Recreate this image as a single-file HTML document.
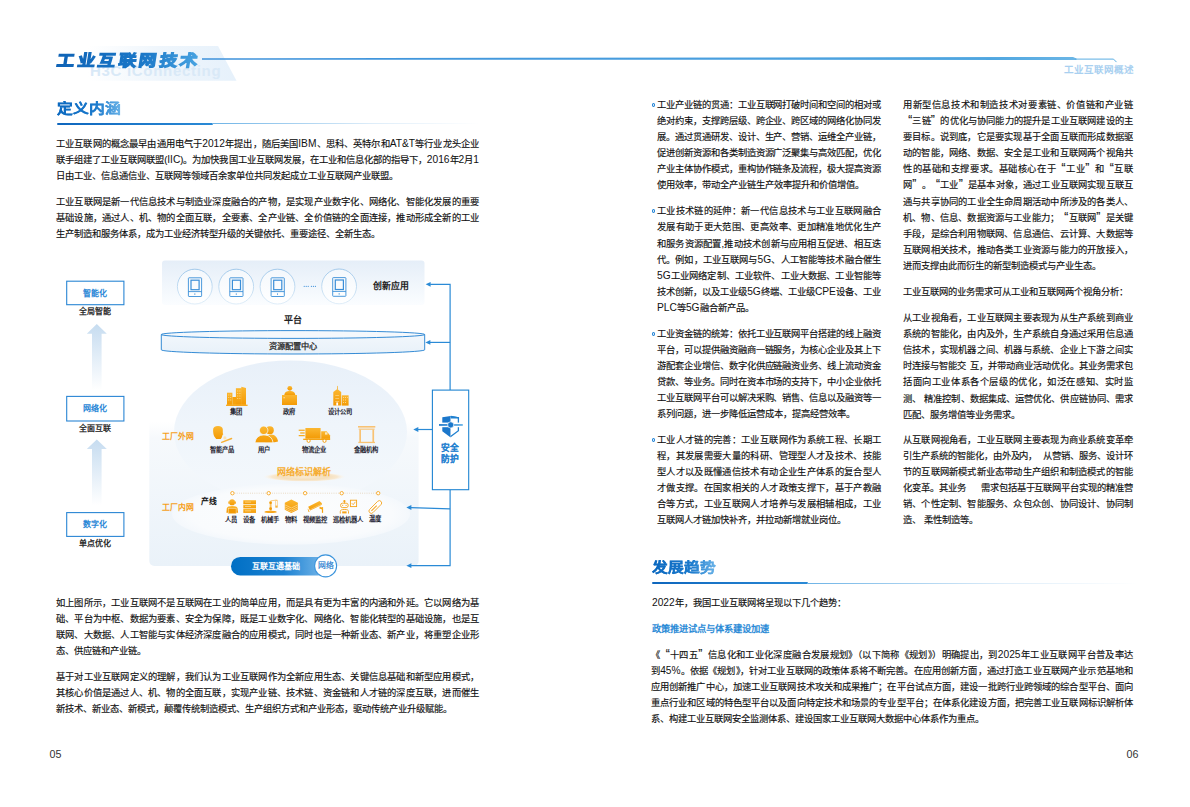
<!DOCTYPE html>
<html lang="zh-CN"><head><meta charset="utf-8"><style>
html,body{margin:0;padding:0;background:#fff;}
body{width:1190px;height:807px;position:relative;overflow:hidden;font-family:"Liberation Sans",sans-serif;color:#111;}
.j,.l{position:absolute;font-size:9.3px;line-height:16px;white-space:nowrap;-webkit-text-stroke-width:0.15px;}
.j{text-align:justify;text-align-last:justify;white-space:nowrap;}
.bul{position:absolute;width:1.4px;height:2px;border:1.1px solid #1e82d6;border-radius:50%;}
.a{position:absolute;white-space:nowrap;}
.sp{display:inline-block;}
.lt{font-size:1.1em;-webkit-text-stroke-width:0;}
.qo{display:inline-block;width:0.77em;font-size:1.3em;line-height:1px;text-align:right;text-align-last:right;}
.qc{display:inline-block;width:0.77em;font-size:1.3em;line-height:1px;text-align:left;text-align-last:left;}
.lab{position:absolute;white-space:nowrap;font-size:6.3px;line-height:8px;font-weight:bold;color:#1d2330;transform:translateX(-50%);}
</style></head><body>
<svg style="position:absolute;left:0;top:0" width="1190" height="100">
<defs>
<linearGradient id="trap" x1="0" x2="1" y1="0" y2="0">
<stop offset="0" stop-color="#eaf3fb" stop-opacity="0"></stop>
<stop offset="0.5" stop-color="#eaf3fb" stop-opacity="0.8"></stop>
<stop offset="1" stop-color="#e6f1fb" stop-opacity="1"></stop>
</linearGradient>
<linearGradient id="hl" x1="0" x2="1" y1="0" y2="0">
<stop offset="0" stop-color="#3d91db"></stop>
<stop offset="0.9" stop-color="#4fa6e0"></stop>
<stop offset="1" stop-color="#6bb6e6"></stop>
</linearGradient>
</defs>
<polygon points="88,46 218,46 236.5,80.7 88,80.7" fill="url(#trap)"></polygon>
<text x="90" y="76.2" font-family="Liberation Sans" font-weight="bold" font-size="15" letter-spacing="0.7" fill="#d9e9f7">H3C iConnecting</text>
<polygon points="202,58.3 1073,57 1076.5,58.4 1076.5,59.9 202,59.8" fill="url(#hl)"></polygon>
<path d="M1075 59.1 L1113.5 59.1 L1116.5 62.1" stroke="#5aaee3" stroke-width="1" fill="none"></path>
</svg>
<div class="a" style="left:56px;top:47.5px;font-size:17.5px;line-height:24px;font-weight:700;letter-spacing:3.5px;-webkit-text-stroke:1.3px transparent;transform:skewX(-9deg) scaleY(0.9);transform-origin:0 19px;background:linear-gradient(90deg,#0f63b6 0%,#1b78c8 60%,#4aa5e2 100%);-webkit-background-clip:text;background-clip:text;color:transparent;">工业互联网技术</div>
<div class="a" style="left:1063.5px;top:63.7px;font-size:9.5px;line-height:12px;font-weight:bold;color:#a9d0f0;">工业互联网概述</div>

<div class="a" style="left:56.8px;top:97.8px;font-size:15.8px;line-height:20px;font-weight:bold;-webkit-text-stroke:0.4px transparent;transform:scaleY(0.83);transform-origin:0 15.5px;background:linear-gradient(90deg,#0b68bf 0%,#1a79cc 60%,#6ab3e8 100%);-webkit-background-clip:text;background-clip:text;color:transparent;">定义内涵</div>
<div style="position:absolute;left:57px;top:122.8px;width:156px;height:2px;background:linear-gradient(90deg,#0e66bd,#2a8ad6);border-radius:1px"></div>
<div style="position:absolute;left:212px;top:123.3px;width:268px;height:1px;background:linear-gradient(90deg,#6db3e6,rgba(200,225,245,0.6) 60%,rgba(255,255,255,0))"></div>

<div class="a" style="left:651.8px;top:556.8px;font-size:15.8px;line-height:20px;font-weight:bold;-webkit-text-stroke:0.4px transparent;transform:scaleY(0.83);transform-origin:0 15.5px;background:linear-gradient(90deg,#0b68bf 0%,#1a79cc 60%,#6ab3e8 100%);-webkit-background-clip:text;background-clip:text;color:transparent;">发展趋势</div>
<div style="position:absolute;left:652px;top:582px;width:156px;height:2px;background:linear-gradient(90deg,#0e66bd,#2a8ad6);border-radius:1px"></div>
<div style="position:absolute;left:807px;top:582.5px;width:330px;height:1px;background:linear-gradient(90deg,#6db3e6,rgba(200,225,245,0.6) 60%,rgba(255,255,255,0))"></div>

<div class="a" style="left:49.5px;top:747px;font-size:10.7px;line-height:14px;color:#333">05</div>
<div class="a" style="left:1126.5px;top:747px;font-size:10.7px;line-height:14px;color:#333">06</div>

<div class="j" style="left: 56px; top: 136.1px; width: 423px;">工业互联网的概念最早由通用电气于<span class="lt">2012</span>年提出，随后美国<span class="lt">IBM</span>、思科、英特尔和<span class="lt">AT&amp;T</span>等行业龙头企业</div>
<div class="j" style="left: 56px; top: 152.1px; width: 423px;">联手组建了工业互联网联盟(<span class="lt">IIC</span>)。为加快我国工业互联网发展，在工业和信息化部的指导下，<span class="lt">2016</span>年<span class="lt">2</span>月<span class="lt">1</span></div>
<div class="l" style="left:56px;top:168.1px;width:423px;">日由工业、信息通信业、互联网等领域百余家单位共同发起成立工业互联网产业联盟。</div>
<div class="j" style="left: 56px; top: 194.4px; width: 423px;">工业互联网是新一代信息技术与制造业深度融合的产物，是实现产业数字化、网络化、智能化发展的重要</div>
<div class="j" style="left: 56px; top: 210.4px; width: 423px;">基础设施，通过人、机、物的全面互联，全要素、全产业链、全价值链的全面连接，推动形成全新的工业</div>
<div class="l" style="left:56px;top:226.4px;width:423px;">生产制造和服务体系，成为工业经济转型升级的关键依托、重要途径、全新生态。</div>
<div class="j" style="left: 56px; top: 594.8px; width: 423px;">如上图所示，工业互联网不是互联网在工业的简单应用，而是具有更为丰富的内涵和外延。它以网络为基</div>
<div class="j" style="left: 56px; top: 611px; width: 423px;">础、平台为中枢、数据为要素、安全为保障，既是工业数字化、网络化、智能化转型的基础设施，也是互</div>
<div class="j" style="left: 56px; top: 627.2px; width: 423px;">联网、大数据、人工智能与实体经济深度融合的应用模式，同时也是一种新业态、新产业，将重塑企业形</div>
<div class="l" style="left:56px;top:643.4px;width:423px;">态、供应链和产业链。</div>
<div class="j" style="left: 56px; top: 669px; width: 423px;">基于对工业互联网定义的理解，我们认为工业互联网作为全新应用生态、关键信息基础和新型应用模式，</div>
<div class="j" style="left: 56px; top: 685.1px; width: 423px;">其核心价值是通过人、机、物的全面互联，实现产业链、技术链、资金链和人才链的深度互联，进而催生</div>
<div class="l" style="left:56px;top:701.2px;width:423px;">新技术、新业态、新模式，颠覆传统制造模式、生产组织方式和产业形态，驱动传统产业升级赋能。</div>
<div class="j" style="left: 657px; top: 96.9px; width: 224px; letter-spacing: -0.04px;">工业产业链的贯通：工业互联网打破时间和空间的相对或</div>
<div class="j" style="left: 657px; top: 113px; width: 224px; letter-spacing: -0.04px;">绝对约束，支撑跨层级、跨企业、跨区域的网络化协同发</div>
<div class="j" style="left: 657px; top: 129.1px; width: 224px; letter-spacing: -0.04px;">展。通过贯通研发、设计、生产、营销、运维全产业链，</div>
<div class="j" style="left: 657px; top: 145.2px; width: 224px; letter-spacing: -0.04px;">促进创新资源和各类制造资源广泛聚集与高效匹配，优化</div>
<div class="j" style="left: 657px; top: 161.3px; width: 224px; letter-spacing: -0.04px;">产业主体协作模式，重构协作链条及流程，极大提高资源</div>
<div class="l" style="left:657px;top:177.4px;width:224px;">使用效率，带动全产业链生产效率提升和价值增值。</div>
<div class="j" style="left: 657px; top: 203.3px; width: 224px;">工业技术链的延伸：新一代信息技术与工业互联网融合</div>
<div class="j" style="left: 657px; top: 219.4px; width: 224px;">发展有助于更大范围、更高效率、更加精准地优化生产</div>
<div class="j" style="left: 657px; top: 235.5px; width: 224px;">和服务资源配置,推动技术创新与应用相互促进、相互迭</div>
<div class="j" style="left: 657px; top: 251.6px; width: 224px;">代。例如，工业互联网与<span class="lt">5G</span>、人工智能等技术融合催生</div>
<div class="j" style="left: 657px; top: 267.7px; width: 224px;"><span class="lt">5G</span>工业网络定制、工业软件、工业大数据、工业智能等</div>
<div class="j" style="left: 657px; top: 283.8px; width: 224px;">技术创新，以及工业级<span class="lt">5G</span>终端、工业级<span class="lt">CPE</span>设备、工业</div>
<div class="l" style="left:657px;top:299.9px;width:224px;"><span class="lt">PLC</span>等<span class="lt">5G</span>融合新产品。</div>
<div class="j" style="left: 657px; top: 325.7px; width: 224px; letter-spacing: -0.04px;">工业资金链的统筹：依托工业互联网平台搭建的线上融资</div>
<div class="j" style="left: 657px; top: 341.8px; width: 224px; letter-spacing: -0.04px;">平台，可以提供融资融商一链服务，为核心企业及其上下</div>
<div class="j" style="left: 657px; top: 357.9px; width: 224px; letter-spacing: -0.04px;">游配套企业增信、数字化供应链融资业务、线上流动资金</div>
<div class="j" style="left: 657px; top: 374px; width: 224px; letter-spacing: -0.04px;">贷款、等业务。同时在资本市场的支持下，中小企业依托</div>
<div class="j" style="left: 657px; top: 390.1px; width: 224px; letter-spacing: -0.04px;">工业互联网平台可以解决采购、销售、信息以及融资等一</div>
<div class="l" style="left:657px;top:406.2px;width:224px;">系列问题，进一步降低运营成本，提高经营效率。</div>
<div class="j" style="left: 657px; top: 431.5px; width: 224px;">工业人才链的完善：工业互联网作为系统工程、长期工</div>
<div class="j" style="left: 657px; top: 447.6px; width: 224px;">程，其发展需要大量的科研、管理型人才及技术、技能</div>
<div class="j" style="left: 657px; top: 463.7px; width: 224px;">型人才以及既懂通信技术有动企业生产体系的复合型人</div>
<div class="j" style="left: 657px; top: 479.8px; width: 224px;">才做支撑。在国家相关的人才政策支撑下，基于产教融</div>
<div class="j" style="left: 657px; top: 495.9px; width: 224px;">合等方式，工业互联网人才培养与发展相辅相成，工业</div>
<div class="l" style="left:657px;top:512.0px;width:224px;">互联网人才链加快补齐，并拉动新增就业岗位。</div>
<div class="bul" style="left:651.9px;top:103.0px"></div>
<div class="bul" style="left:651.9px;top:209.4px"></div>
<div class="bul" style="left:651.9px;top:331.8px"></div>
<div class="bul" style="left:651.9px;top:437.6px"></div>
<div class="j" style="left: 903px; top: 96.9px; width: 230px;">用新型信息技术和制造技术对要素链、价值链和产业链</div>
<div class="j" style="left: 903px; top: 113px; width: 230px;"><span class="qo">“</span>三链<span class="qc">”</span>的优化与协同能力的提升是工业互联网建设的主</div>
<div class="j" style="left: 903px; top: 129.1px; width: 230px;">要目标。说到底，它是要实现基于全面互联而形成数据驱</div>
<div class="j" style="left: 903px; top: 145.2px; width: 230px;">动的智能，网络、数据、安全是工业和互联网两个视角共</div>
<div class="j" style="left: 903px; top: 161.3px; width: 230px;">性的基础和支撑要求。基础核心在于<span class="qo">“</span>工业<span class="qc">”</span>和<span class="qo">“</span>互联</div>
<div class="j" style="left: 903px; top: 177.4px; width: 230px;">网<span class="qc">”</span>。<span class="qo">“</span>工业<span class="qc">”</span>是基本对象，通过工业互联网实现互联互</div>
<div class="j" style="left: 903px; top: 193.5px; width: 230px;">通与共享协同的工业全生命周期活动中所涉及的各类人、</div>
<div class="j" style="left: 903px; top: 209.6px; width: 230px;">机、物、信息、数据资源与工业能力；<span class="qo">“</span>互联网<span class="qc">”</span>是关键</div>
<div class="j" style="left: 903px; top: 225.7px; width: 230px;">手段，是综合利用物联网、信息通信、云计算、大数据等</div>
<div class="j" style="left: 903px; top: 241.8px; width: 230px;">互联网相关技术，推动各类工业资源与能力的开放接入，</div>
<div class="l" style="left:903px;top:257.9px;width:230px;">进而支撑由此而衍生的新型制造模式与产业生态。</div>
<div class="l" style="left:903px;top:284.3px;width:230px;">工业互联网的业务需求可从工业和互联网两个视角分析：</div>
<div class="j" style="left: 903px; top: 310px; width: 230px;">从工业视角看，工业互联网主要表现为从生产系统到商业</div>
<div class="j" style="left: 903px; top: 326.1px; width: 230px;">系统的智能化，由内及外，生产系统自身通过采用信息通</div>
<div class="j" style="left: 903px; top: 342.2px; width: 230px;">信技术，实现机器之间、机器与系统、企业上下游之间实</div>
<div class="j" style="left: 903px; top: 358.3px; width: 230px;">时连接与智能交<span class="sp" style="width:3px"></span>互，并带动商业活动优化。其业务需求包</div>
<div class="j" style="left: 903px; top: 374.4px; width: 230px;">括面向工业体系各个层级的优化，如泛在感知、实时监</div>
<div class="j" style="left: 903px; top: 390.5px; width: 230px;">测、<span class="sp" style="width:3px"></span>精准控制、数据集成、运营优化、供应链协同、需求</div>
<div class="l" style="left:903px;top:406.6px;width:230px;">匹配、服务增值等业务需求。</div>
<div class="j" style="left: 903px; top: 431.5px; width: 230px;">从互联网视角看，工业互联网主要表现为商业系统变革牵</div>
<div class="j" style="left: 903px; top: 447.6px; width: 230px; letter-spacing: -0.04px;">引生产系统的智能化，由外及内，<span class="sp" style="width:6px"></span>从营销、服务、设计环</div>
<div class="j" style="left: 903px; top: 463.7px; width: 230px;">节的互联网新模式新业态带动生产组织和制造模式的智能</div>
<div class="j" style="left: 903px; top: 479.8px; width: 230px; letter-spacing: -0.042px;">化变革。其业务<span class="sp" style="width:15px"></span>需求包括基于互联网平台实现的精准营</div>
<div class="j" style="left: 903px; top: 495.9px; width: 230px;">销、个性定制、智能服务、众包众创、协同设计、协同制</div>
<div class="l" style="left:903px;top:512.0px;width:230px;">造、<span class="sp" style="width:3px"></span>柔性制造等。</div>
<div class="l" style="left:652px;top:594.7px;width:482px;"><span class="lt">2022</span>年，我国工业互联网将呈现以下几个趋势：</div>
<div class="l" style="left:652px;top:620.7px;width:300px;color:#2a8ad6;font-weight:bold;-webkit-text-stroke-width:0;">政策推进试点与体系建设加速</div>
<div class="j" style="left: 651px; top: 647.4px; width: 482px;">《<span class="qo">“</span>十四五<span class="qc">”</span>信息化和工业化深度融合发展规划》（以下简称《规划》）明确提出，到<span class="lt">2025</span>年工业互联网平台普及率达</div>
<div class="j" style="left: 651px; top: 663.3px; width: 482px;">到<span class="lt">45%</span>。依据《规划》，针对工业互联网的政策体系将不断完善。在应用创新方面，通过打造工业互联网产业示范基地和</div>
<div class="j" style="left: 651px; top: 679.2px; width: 482px;">应用创新推广中心，加速工业互联网技术攻关和成果推广；在平台试点方面，建设一批跨行业跨领域的综合型平台、面向</div>
<div class="j" style="left: 651px; top: 695.1px; width: 482px;">重点行业和区域的特色型平台以及面向特定技术和场景的专业型平台；在体系化建设方面，把完善工业互联网标识解析体</div>
<div class="l" style="left:651px;top:711.0px;width:482px;">系、构建工业互联网安全监测体系、建设国家工业互联网大数据中心体系作为重点。</div>
<svg style="position:absolute;left:0;top:0" width="1190" height="807">
<defs>
<linearGradient id="appbox" x1="0" x2="0" y1="0" y2="1">
<stop offset="0" stop-color="#e5eef8"></stop><stop offset="1" stop-color="#fbfdff"></stop>
</linearGradient>
<linearGradient id="circ" x1="0" x2="0" y1="0" y2="1">
<stop offset="0" stop-color="#8dbde6"></stop><stop offset="1" stop-color="#d8e9f6"></stop>
</linearGradient>
<linearGradient id="circf" x1="0" x2="0" y1="0" y2="1">
<stop offset="0" stop-color="#f4f8fc"></stop><stop offset="1" stop-color="#ffffff"></stop>
</linearGradient>
<linearGradient id="bgr" x1="0" x2="0" y1="0" y2="1">
<stop offset="0" stop-color="#f6f9fc" stop-opacity="0"></stop><stop offset="0.3" stop-color="#f6f9fc" stop-opacity="0"></stop><stop offset="0.38" stop-color="#f6f9fc"></stop><stop offset="1" stop-color="#eaf2f9"></stop>
</linearGradient>
<linearGradient id="ell1" x1="0" x2="0" y1="0" y2="1">
<stop offset="0" stop-color="#e8f0f9"></stop><stop offset="0.45" stop-color="#eff5fb"></stop><stop offset="1" stop-color="#f4f8fc"></stop>
</linearGradient>
<radialGradient id="ell2" cx="0.5" cy="0.5" r="0.5">
<stop offset="0" stop-color="#fcfdfe"></stop><stop offset="0.85" stop-color="#f9fbfd"></stop><stop offset="1" stop-color="#f4f8fc"></stop>
</radialGradient>
<linearGradient id="org" x1="0" x2="1" y1="1" y2="0">
<stop offset="0" stop-color="#f39800"></stop><stop offset="1" stop-color="#fcc24a"></stop>
</linearGradient>
<linearGradient id="orgv" x1="0" x2="0" y1="0" y2="1">
<stop offset="0" stop-color="#fbb731"></stop><stop offset="1" stop-color="#f39a05"></stop>
</linearGradient>
<linearGradient id="arr" x1="0" x2="0" y1="0" y2="1">
<stop offset="0" stop-color="#c6dcf0"></stop><stop offset="1" stop-color="#ffffff"></stop>
</linearGradient>
<linearGradient id="pill" x1="0" x2="1" y1="0" y2="0">
<stop offset="0" stop-color="#006fc4"></stop><stop offset="0.55" stop-color="#1c82d2"></stop><stop offset="1" stop-color="#7bb9ea"></stop>
</linearGradient>
<radialGradient id="glow" cx="0.5" cy="0.5" r="0.5">
<stop offset="0" stop-color="#f9ead2"></stop><stop offset="0.55" stop-color="#f5dfbb"></stop><stop offset="0.8" stop-color="#f8e8cf"></stop><stop offset="1" stop-color="#fdf6ea" stop-opacity="0"></stop>
</radialGradient>
<linearGradient id="disk" x1="0" x2="0" y1="0" y2="1">
<stop offset="0" stop-color="#f2f7fc"></stop><stop offset="1" stop-color="#e8f1f9"></stop>
</linearGradient>
<marker id="ah" markerWidth="6" markerHeight="6" refX="0.5" refY="3" orient="auto" markerUnits="userSpaceOnUse">
<path d="M0,3 L5,0.6 L5,5.4 Z" fill="#2a8ad6"></path>
</marker>
</defs>

<!-- top apps box -->
<rect x="162" y="260.5" width="262.5" height="44.5" rx="3" fill="url(#appbox)"></rect>
<g id="tab">
<circle cx="194.8" cy="286.6" r="17.4" fill="url(#circf)" stroke="url(#circ)" stroke-width="0.8"></circle>
</g>
<circle cx="236.2" cy="286.6" r="17.4" fill="url(#circf)" stroke="url(#circ)" stroke-width="0.8"></circle>
<circle cx="277.5" cy="286.6" r="17.4" fill="url(#circf)" stroke="url(#circ)" stroke-width="0.8"></circle>
<circle cx="339.1" cy="286.4" r="17.4" fill="url(#circf)" stroke="url(#circ)" stroke-width="0.8"></circle>
<g fill="none" stroke="#3a8ed8" stroke-width="0.9">
<rect x="188.4" y="277.8" width="13.2" height="18.7" rx="0.6"></rect><rect x="191" y="280.2" width="8.1" height="9.5" stroke-width="1.2"></rect><line x1="188.4" y1="291.6" x2="201.6" y2="291.6"></line>
<rect x="229.8" y="277.8" width="13.2" height="18.7" rx="0.6"></rect><rect x="232.4" y="280.2" width="8.1" height="9.5" stroke-width="1.2"></rect><line x1="229.8" y1="291.6" x2="243" y2="291.6"></line>
<rect x="271.1" y="277.8" width="13.2" height="18.7" rx="0.6"></rect><rect x="273.7" y="280.2" width="8.1" height="9.5" stroke-width="1.2"></rect><line x1="271.1" y1="291.6" x2="284.3" y2="291.6"></line>
<rect x="332.7" y="277.6" width="13.2" height="18.7" rx="0.6"></rect><rect x="335.3" y="280" width="8.1" height="9.5" stroke-width="1.2"></rect><line x1="332.7" y1="291.4" x2="345.9" y2="291.4"></line>
</g>
<g fill="#3a8ed8">
<rect x="194.4" y="293.4" width="0.9" height="1.4"></rect><rect x="235.8" y="293.4" width="0.9" height="1.4"></rect><rect x="277.1" y="293.4" width="0.9" height="1.4"></rect><rect x="338.7" y="293.2" width="0.9" height="1.4"></rect>
<circle cx="304.2" cy="286.3" r="0.6"></circle><circle cx="306.2" cy="286.3" r="0.6"></circle><circle cx="308.2" cy="286.3" r="0.6"></circle><circle cx="311.4" cy="286.3" r="0.6"></circle><circle cx="313.4" cy="286.3" r="0.6"></circle><circle cx="315.4" cy="286.3" r="0.6"></circle>
</g>

<!-- disk -->
<path d="M161.3,334.5 L161.3,349.8 A131.7,4.2 0 0 0 424.7,349.8 L424.7,334.5" fill="url(#disk)" stroke="#1f7fd0" stroke-width="0.9"></path>
<ellipse cx="293" cy="334.5" rx="131.7" ry="3.9" fill="#f4f8fc" stroke="#1f7fd0" stroke-width="0.9"></ellipse>

<!-- background and ellipses -->
<rect x="149.3" y="360" width="269.3" height="206" rx="5" fill="url(#bgr)"></rect>
<ellipse cx="290.5" cy="432" rx="116.5" ry="71.5" fill="url(#ell1)"></ellipse>
<ellipse cx="291" cy="514" rx="119" ry="30.5" fill="url(#ell2)"></ellipse>
<ellipse cx="304.5" cy="476.8" rx="41" ry="5" fill="url(#glow)"></ellipse>

<!-- arrows / lines right -->
<g stroke="#2a8ad6" stroke-width="1.2" fill="none">
<polyline points="450.1,390.1 450.1,284.3 430.2,284.3"></polyline>
<line x1="450.1" y1="342.4" x2="430" y2="342.4"></line>
<line x1="432.4" y1="429.5" x2="418" y2="429.5"></line>
<polyline points="450.1,489.7 450.1,565.7 411,565.7"></polyline>
<line x1="450.1" y1="508.8" x2="411" y2="507.6"></line>
</g>
<g fill="#2a8ad6">
<path d="M425.6,284.3 L430.6,281.9 L430.6,286.7 Z"></path>
<path d="M425.4,342.4 L430.4,340 L430.4,344.8 Z"></path>
<path d="M413.3,429.5 L418.3,427.1 L418.3,431.9 Z"></path>
<path d="M406.4,507.5 L411.4,505.1 L411.4,509.9 Z"></path>
<path d="M406.4,565.7 L411.4,563.3 L411.4,568.1 Z"></path>
</g>
<rect x="432.4" y="390.1" width="36.3" height="99.6" fill="#fff" stroke="#1f84d2" stroke-width="1.1"></rect>
<!-- shield -->
<linearGradient id="bar" x1="0" x2="1" y1="0" y2="0"><stop offset="0" stop-color="#1a74c8"></stop><stop offset="1" stop-color="#5eaee6"></stop></linearGradient>
<path d="M442.3,417.3 L450.7,415.9 L450.7,437.4 L442.3,431.2 Z" fill="#1b77cb"></path>
<path d="M450.7,416.5 L458.4,417.7 L458.4,430.8 L450.7,436.6" fill="#fff" stroke="#1f80d0" stroke-width="1.3"></path>
<path d="M450.7,415.9 L459,417.2 L459,418.6 L450.7,418.6 Z" fill="#1f80d0"></path>
<rect x="441" y="422.6" width="19.5" height="4.6" fill="#fff"></rect>
<rect x="439" y="424.1" width="23.8" height="1.7" fill="url(#bar)"></rect>
<circle cx="450.7" cy="424.9" r="3.1" fill="#1a78cc" stroke="#fff" stroke-width="0.7"></circle>
<!-- left column boxes -->
<g fill="#fff" stroke="#2a86d4" stroke-width="1.1">
<rect x="66.7" y="281.2" width="57.2" height="23.5"></rect>
<rect x="66.7" y="396.4" width="57.2" height="24.6"></rect>
<rect x="66.7" y="512.6" width="57.2" height="23.8"></rect>
</g>
<path d="M96.8,324 L106.8,333.7 L101.6,333.7 L101.6,390 L92,390 L92,333.7 L86.8,333.7 Z" fill="url(#arr)"></path>
<path d="M96.8,439.5 L106.8,449 L101.6,449 L101.6,505 L92,505 L92,449 L86.8,449 Z" fill="url(#arr)"></path>

<!-- pill -->
<rect x="231" y="556.9" width="96" height="18.5" rx="9.25" fill="url(#pill)"></rect>
<circle cx="325.6" cy="565.9" r="11" fill="#fff" stroke="#3b94dc" stroke-width="1.1"></circle>

<!-- production line dotted -->
<line x1="232.4" y1="493.2" x2="378.2" y2="493.2" stroke="#e0c9a8" stroke-width="0.8" stroke-dasharray="0.8,1.4"></line>
<g fill="#fff" stroke="#f5a521" stroke-width="0.9">
<circle cx="232.4" cy="493.2" r="1.7"></circle><circle cx="268.7" cy="493.2" r="1.7"></circle><circle cx="305.1" cy="493.2" r="1.7"></circle><circle cx="341.7" cy="493.2" r="1.7"></circle><circle cx="378.2" cy="493.2" r="1.7"></circle>
</g>

<!-- ICONS row1 -->
<g fill="url(#orgv)">
<!-- 集团 -->
<rect x="227" y="392.7" width="5.4" height="12.6"></rect>
<rect x="232.4" y="397" width="5" height="8.3" fill="#f6a30e"></rect>
<rect x="235.9" y="388.2" width="5.9" height="17.1"></rect>
<path d="M241.3,386.8 L246,388 L246,405.3 L241.3,405.3 Z"></path>
<rect x="226" y="404.6" width="21.6" height="1.3"></rect>
<!-- 政府 -->
<circle cx="289.8" cy="388.3" r="2.4"></circle>
<path d="M284.3,395.2 C284.5,392 286.5,390.9 289.8,390.9 C293.1,390.9 295.1,392 295.3,395.2 Z"></path>
<rect x="282" y="395" width="15" height="10"></rect>
<!-- 设计公司 -->
<rect x="337" y="385.9" width="0.7" height="3.5"></rect>
<path d="M333.3,405.6 L333.3,392 L337.3,389 L341.2,392 L341.2,405.6 Z"></path>
<rect x="341.8" y="395.3" width="6.8" height="10.3"></rect>
</g>
<g fill="#fde3a8" opacity="0.8">
<rect x="228.2" y="394.5" width="1" height="1"></rect><rect x="230.2" y="394.5" width="1" height="1"></rect><rect x="228.2" y="397" width="1" height="1"></rect><rect x="230.2" y="397" width="1" height="1"></rect><rect x="228.2" y="399.5" width="1" height="1"></rect><rect x="230.2" y="399.5" width="1" height="1"></rect>
<rect x="237.2" y="390.5" width="1" height="1"></rect><rect x="239.4" y="390.5" width="1" height="1"></rect><rect x="237.2" y="393" width="1" height="1"></rect><rect x="239.4" y="393" width="1" height="1"></rect><rect x="237.2" y="395.5" width="1" height="1"></rect><rect x="239.4" y="395.5" width="1" height="1"></rect><rect x="237.2" y="398" width="1" height="1"></rect><rect x="239.4" y="398" width="1" height="1"></rect>
<rect x="343" y="397" width="1" height="1"></rect><rect x="345" y="397" width="1" height="1"></rect><rect x="347" y="397" width="0.8" height="1"></rect><rect x="343" y="399.5" width="1" height="1"></rect><rect x="345" y="399.5" width="1" height="1"></rect><rect x="343" y="402" width="1" height="1"></rect><rect x="345" y="402" width="1" height="1"></rect>
<rect x="335.3" y="395" width="3.8" height="0.7"></rect><rect x="335.3" y="398" width="3.8" height="0.7"></rect><rect x="335.3" y="401" width="3.8" height="0.7"></rect>
<rect x="283.5" y="397" width="1.3" height="1.3"></rect>
</g>
<rect x="336.3" y="402.5" width="1.8" height="3.1" fill="#fff"></rect>

<!-- ICONS row2 -->
<g fill="url(#orgv)">
<!-- 智能产品 head -->
<path d="M213.1,430 C212.9,427.4 215,426.1 218,426.1 C221,426.1 222.8,427.4 222.8,429.5 L222.8,433.3 L223.3,434.3 L222.5,435 L221.9,437.2 L220.8,438.9 L216.2,438.9 L214.3,436.5 C213.3,434.5 213.1,432 213.1,430 Z"></path>
<!-- 用户 -->
<circle cx="269.8" cy="430.2" r="4"></circle>
<path d="M265,442.4 C265.5,437.5 268,434.6 271.2,434.6 C275,434.6 277.8,438 278,441.6 L274.5,442.2 Z"></path>
<path d="M263.7,426.1 A4.2,4.2 0 1 1 263.69,426.1 Z M255,442.8 C255.5,437.8 259,434.9 263.9,434.9 C268.8,434.9 272.6,437.8 273,442.8 Z" stroke="#f3f7fb" stroke-width="0.8"></path>
<!-- truck -->
<rect x="305.4" y="428" width="15.2" height="10.8"></rect>
<path d="M321.2,431.3 L326.6,431.3 L330.1,435.4 L330.1,439.6 L321.2,439.6 Z"></path>
<rect x="303.2" y="438.6" width="26.9" height="1.4"></rect>
<rect x="298.7" y="429.6" width="6" height="1.2"></rect><rect x="300.2" y="432.3" width="4.5" height="1.2"></rect><rect x="298.7" y="435" width="6" height="1.2"></rect>
</g>
<g fill="#fff" stroke="#f39a05" stroke-width="0.9">
<circle cx="308.6" cy="440.8" r="1.6"></circle><circle cx="324.5" cy="440.8" r="1.6"></circle>
</g>
<rect x="325" y="432.3" width="2.5" height="2.3" fill="#fde8b8"></rect>
<path d="M221.6,442.3 L231.6,438.5" stroke="#f6b036" stroke-width="1.4" stroke-linecap="round"></path>
<circle cx="224.9" cy="437.9" r="1.6" fill="#fbe2b4"></circle>
<!-- gate -->
<g fill="#f8c273">
<rect x="358" y="426" width="17.3" height="1.6"></rect>
<rect x="358.7" y="428.6" width="15.9" height="1.1"></rect>
<rect x="359.3" y="429.6" width="1.7" height="13.2"></rect>
<rect x="372.4" y="429.6" width="1.7" height="13.2"></rect>
<rect x="358.3" y="441.8" width="16.7" height="1.3"></rect>
</g>

<!-- ICONS row3 -->
<g fill="url(#orgv)">
<!-- 人员 -->
<circle cx="232.1" cy="502.4" r="2.9"></circle>
<rect x="228.4" y="501.6" width="1.1" height="2.2" rx="0.5"></rect><rect x="234.8" y="501.6" width="1.1" height="2.2" rx="0.5"></rect>
<path d="M226.4,512.8 L226.8,508.5 C227.2,506.8 229,506.1 232.2,506.1 C235.4,506.1 237.2,506.8 237.6,508.5 L238.1,512.8 Z"></path>
<!-- 设备 -->
<rect x="243.3" y="500.2" width="12.7" height="3.8"></rect>
<rect x="243.3" y="504.6" width="12.7" height="3.8"></rect>
<rect x="243.3" y="509" width="12.7" height="3.9"></rect>
<!-- 物料 -->
<path d="M284.8,502.8 L291.35,499.5 L297.9,502.8 L297.9,509.8 L291.35,513 L284.8,509.8 Z"></path>
<!-- camera -->
<path d="M308.2,506.7 L319.5,500.9 L321.9,503.3 L321.9,504.8 L310.1,510.6 Z"></path>
<rect x="321.9" y="507" width="1.2" height="5.8"></rect>
<path d="M319.6,506.6 L322.2,507.6 L322.2,509.4 L319.4,508.4 Z"></path><path d="M308,508.6 L309.6,511.8 L308.6,512 L307.6,509 Z"></path>
</g>
<g stroke="#fde6b4" stroke-width="0.6" fill="none">
<line x1="245" y1="502.1" x2="251" y2="502.1"></line><line x1="245" y1="506.5" x2="251" y2="506.5"></line><line x1="245" y1="510.9" x2="251" y2="510.9"></line>
<polyline points="284.8,504.8 291.35,508 297.9,504.8"></polyline><polyline points="284.8,506.8 291.35,510 297.9,506.8"></polyline><polyline points="284.8,508.6 291.35,511.8 297.9,508.6"></polyline>
<line x1="310.3" y1="509.6" x2="321.8" y2="504.1" stroke-width="0.45"></line>
</g>
<path d="M228.9,502.6 C228.9,498.9 235.3,498.9 235.3,502.6" stroke="#f7ac2a" stroke-width="0.6" fill="none"></path>
<rect x="228.3" y="508.3" width="7.8" height="5.4" fill="#f39a05" stroke="#fde6b8" stroke-width="0.5"></rect>
<!-- robot arm -->
<ellipse cx="270.6" cy="511.9" rx="6.2" ry="1.2" fill="#f6a51c"></ellipse>
<rect x="269.7" y="501.2" width="1.9" height="10" fill="#f9c467"></rect>
<circle cx="270.6" cy="502.8" r="1.3" fill="#f39a05"></circle><circle cx="270.6" cy="508.7" r="1.4" fill="#f39a05"></circle>
<path d="M270.6,500.8 L276.5,500.1" stroke="#f9c878" stroke-width="0.9"></path>
<rect x="275.7" y="500.2" width="1.6" height="7.2" fill="none" stroke="#f9c878" stroke-width="0.7"></rect>
<rect x="275.5" y="505.6" width="2" height="1.8" fill="#f6b640"></rect>
<!-- inspection robot -->
<g fill="none" stroke="#f5a218" stroke-width="0.9">
<rect x="340.6" y="503.2" width="7.6" height="4.4" rx="2"></rect>
<path d="M340.3,513.6 L340.3,511.5 C340.3,510 341.5,509.5 344.4,509.5 C347.3,509.5 348.5,510 348.5,511.5 L348.5,513.6"></path>
<rect x="350.4" y="500.2" width="6.2" height="6.4"></rect>
</g>
<circle cx="344.4" cy="501.2" r="1.1" fill="#f5a218"></circle>
<rect x="344" y="501.6" width="0.8" height="1.8" fill="#f5a218"></rect>
<rect x="342.2" y="511.4" width="4.4" height="2" fill="#f5a218"></rect>
<circle cx="342.7" cy="505.3" r="0.6" fill="#f5a218"></circle><circle cx="346.1" cy="505.3" r="0.6" fill="#f5a218"></circle>
<path d="M351.8,503.2 L353.2,504.7 L355.4,501.8" stroke="#f5a218" stroke-width="0.8" fill="none"></path>
<!-- thermometer -->
<g transform="rotate(45 375.3 507)">
<rect x="373" y="499" width="4.6" height="16" rx="2.3" fill="#fff" stroke="#f5a82a" stroke-width="0.9"></rect>
<line x1="375.3" y1="505" x2="375.3" y2="512.5" stroke="#f5a82a" stroke-width="1.1"></line>
</g>
</svg>

<!-- diagram texts -->
<div class="a" style="left:83.2px;top:288px;font-size:8px;line-height:12px;font-weight:bold;color:#2a87d6">智能化</div>
<div class="a" style="left:79px;top:306.2px;font-size:8px;line-height:12px;color:#111;-webkit-text-stroke:0.25px #111">全局智能</div>
<div class="a" style="left:83.2px;top:403.4px;font-size:8px;line-height:12px;font-weight:bold;color:#2a87d6">网络化</div>
<div class="a" style="left:79px;top:423.3px;font-size:8px;line-height:12px;color:#111;-webkit-text-stroke:0.25px #111">全面互联</div>
<div class="a" style="left:83.2px;top:519.3px;font-size:8px;line-height:12px;font-weight:bold;color:#2a87d6">数字化</div>
<div class="a" style="left:79px;top:537.7px;font-size:8px;line-height:12px;color:#111;-webkit-text-stroke:0.25px #111">单点优化</div>

<div class="a" style="left:373px;top:280px;font-size:8.9px;line-height:12px;font-weight:bold;color:#222">创新应用</div>
<div class="a" style="left:283.5px;top:313.5px;font-size:9px;line-height:12px;font-weight:bold;color:#222">平台</div>
<div class="a" style="left:269px;top:341px;font-size:8.2px;line-height:12px;color:#222;-webkit-text-stroke:0.25px #222">资源配置中心</div>

<div class="a" style="left:441px;top:442.5px;font-size:8.7px;line-height:11.3px;font-weight:bold;color:#1f7fd0;text-align:center;-webkit-text-stroke:0.05px #1f7fd0">安全<br>防护</div>

<div class="a" style="left:161.5px;top:431px;font-size:7.9px;line-height:11px;font-weight:bold;color:#f5a01c">工厂外网</div>
<div class="a" style="left:161.5px;top:502px;font-size:7.9px;line-height:11px;font-weight:bold;color:#f5a01c">工厂内网</div>
<div class="a" style="left:276.5px;top:466px;font-size:9px;line-height:12px;font-weight:bold;color:#f6ac30">网络标识解析</div>
<div class="a" style="left:200.8px;top:495.5px;font-size:7.8px;line-height:11px;font-weight:bold;color:#111">产线</div>

<div class="a" style="left:252px;top:560.5px;font-size:8px;line-height:12px;font-weight:bold;color:#fff">互联互通基础</div>
<div class="a" style="left:317.6px;top:560.2px;font-size:7.8px;line-height:12px;font-weight:normal;-webkit-text-stroke:0.2px #2a7fd0;color:#2a7fd0">网络</div>
<div class="lab" style="left:235.8px;top:408px">集团</div>
<div class="lab" style="left:288.8px;top:408px">政府</div>
<div class="lab" style="left:340px;top:408px">设计公司</div>
<div class="lab" style="left:221.9px;top:445.5px">智能产品</div>
<div class="lab" style="left:264.1px;top:445.5px">用户</div>
<div class="lab" style="left:314px;top:445.5px">物流企业</div>
<div class="lab" style="left:366px;top:445.5px">金融机构</div>
<div class="lab" style="left:230.7px;top:515.8px">人员</div>
<div class="lab" style="left:248.9px;top:515.8px">设备</div>
<div class="lab" style="left:269.7px;top:515.8px">机械手</div>
<div class="lab" style="left:290.7px;top:515.8px">物料</div>
<div class="lab" style="left:314.9px;top:515.8px">视频监控</div>
<div class="lab" style="left:347.8px;top:515.8px">巡检机器人</div>
<div class="lab" style="left:375.1px;top:514.8px">温度</div>

</body></html>
